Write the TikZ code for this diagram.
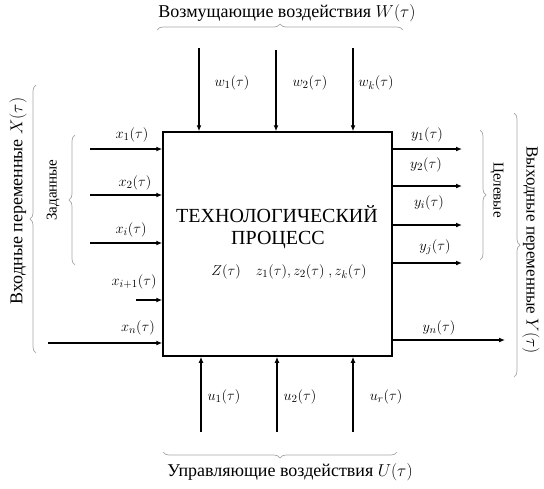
\documentclass[tikz,border=0pt]{standalone}
\usepackage{fontspec}
\setmainfont{Liberation Serif}
\usetikzlibrary{arrows.meta,decorations.pathreplacing}
\tikzset{
  lbl/.style={font=\fontsize{15}{17}\selectfont, inner sep=0pt},
  grp/.style={font=\fontsize{18}{20}\selectfont, inner sep=0pt},
  vgrp/.style={font=\fontsize{17}{19}\selectfont, inner sep=0pt},
  side/.style={font=\fontsize{15}{17}\selectfont, inner sep=0pt},
  ttl/.style={font=\fontsize{20}{23}\selectfont, inner sep=0pt},
  arr/.style={line width=1.3pt, -{Latex[length=6pt,width=5pt]}},
  brc/.style={draw=black!35, line width=0.7pt, decorate, decoration={brace, amplitude=6pt}},
}
\begin{document}
\begin{tikzpicture}[x=1pt,y=-1pt]
\useasboundingbox (0,0) rectangle (544,488);
% main box
\node[draw, line width=1.5pt, minimum width=229pt, minimum height=224pt, inner sep=0pt] (proc) at (277.5,244) {};
\node[ttl] (t1) at (277,214) {ТЕХНОЛОГИЧЕСКИЙ};
\node[ttl] (t2) at (278,240) {ПРОЦЕСС};
\node[lbl] (zz) at (289,272) {$Z(\tau)$\quad $z_1(\tau), z_2(\tau)\ , z_k(\tau)$};

% disturbances (top)
\coordinate (w1s) at (199,48);
\coordinate (w2s) at (276,50);
\coordinate (w3s) at (353,48);
\draw[arr] (w1s) -- (w1s |- proc.north);
\draw[arr] (w2s) -- (w2s |- proc.north);
\draw[arr] (w3s) -- (w3s |- proc.north);
\node[lbl] (w1) at (232,83) {$w_1(\tau)$};
\node[lbl] (w2) at (310,83) {$w_2(\tau)$};
\node[lbl] (w3) at (376,83) {$w_k(\tau)$};
\coordinate (tb1) at (157,30);
\coordinate (tb2) at (403,30);
\draw[brc] (tb1) -- (tb2);
\node[grp] (wlab) at (287,13) {Возмущающие воздействия $W(\tau)$};

% inputs (left)
\coordinate (x1s) at (90,149);
\coordinate (x2s) at (90,195);
\coordinate (x3s) at (90,243);
\coordinate (x4s) at (136,300);
\coordinate (x5s) at (48,343);
\draw[arr] (x1s) -- (x1s -| proc.west);
\draw[arr] (x2s) -- (x2s -| proc.west);
\draw[arr] (x3s) -- (x3s -| proc.west);
\draw[arr] (x4s) -- (x4s -| proc.west);
\draw[arr] (x5s) -- (x5s -| proc.west);
\node[lbl] (x1) at (132,135) {$x_1(\tau)$};
\node[lbl] (x2) at (135,183) {$x_2(\tau)$};
\node[lbl] (x3) at (131,230) {$x_i(\tau)$};
\node[lbl] (x4) at (134,282) {$x_{i+1}(\tau)$};
\node[lbl] (x5) at (138,328) {$x_n(\tau)$};
\coordinate (lb1) at (75,265);
\coordinate (lb2) at (75,135);
\draw[brc] (lb1) -- (lb2);
\node[side, rotate=90] (zad) at (53,190) {Заданные};
\coordinate (lo1) at (36,353);
\coordinate (lo2) at (36,85);
\draw[brc] (lo1) -- (lo2);
\node[grp, rotate=90] (xlab) at (18,201) {Входные переменные $X(\tau)$};

% outputs (right)
\coordinate (y1e) at (462,149);
\coordinate (y2e) at (462,186);
\coordinate (y3e) at (462,225);
\coordinate (y4e) at (462,263);
\coordinate (y5e) at (505,340);
\draw[arr] (y1e -| proc.east) -- (y1e);
\draw[arr] (y2e -| proc.east) -- (y2e);
\draw[arr] (y3e -| proc.east) -- (y3e);
\draw[arr] (y4e -| proc.east) -- (y4e);
\draw[arr] (y5e -| proc.east) -- (y5e);
\node[lbl] (y1) at (427,135) {$y_1(\tau)$};
\node[lbl] (y2) at (426,165) {$y_2(\tau)$};
\node[lbl] (y3) at (429,203) {$y_i(\tau)$};
\node[lbl] (y4) at (435,247) {$y_j(\tau)$};
\node[lbl] (y5) at (439,328) {$y_n(\tau)$};
\coordinate (rb1) at (480,130);
\coordinate (rb2) at (480,260);
\draw[brc] (rb1) -- (rb2);
\node[side, rotate=-90] (cel) at (497,190) {Целевые};
\coordinate (ro1) at (514,113);
\coordinate (ro2) at (514,377);
\draw[brc] (ro1) -- (ro2);
\node[vgrp, rotate=-90] (ylab) at (531,250) {Выходные переменные $Y(\tau)$};

% control actions (bottom)
\coordinate (u1s) at (201,432);
\coordinate (u2s) at (277,432);
\coordinate (u3s) at (353,432);
\draw[arr] (u1s) -- (u1s |- proc.south);
\draw[arr] (u2s) -- (u2s |- proc.south);
\draw[arr] (u3s) -- (u3s |- proc.south);
\node[lbl] (u1) at (224,397) {$u_1(\tau)$};
\node[lbl] (u2) at (300,397) {$u_2(\tau)$};
\node[lbl] (u3) at (386,397) {$u_r(\tau)$};
\coordinate (bb1) at (397,452);
\coordinate (bb2) at (163,452);
\draw[brc] (bb1) -- (bb2);
\node[grp] (ulab) at (290,472) {Управляющие воздействия $U(\tau)$};
\end{tikzpicture}
\end{document}
